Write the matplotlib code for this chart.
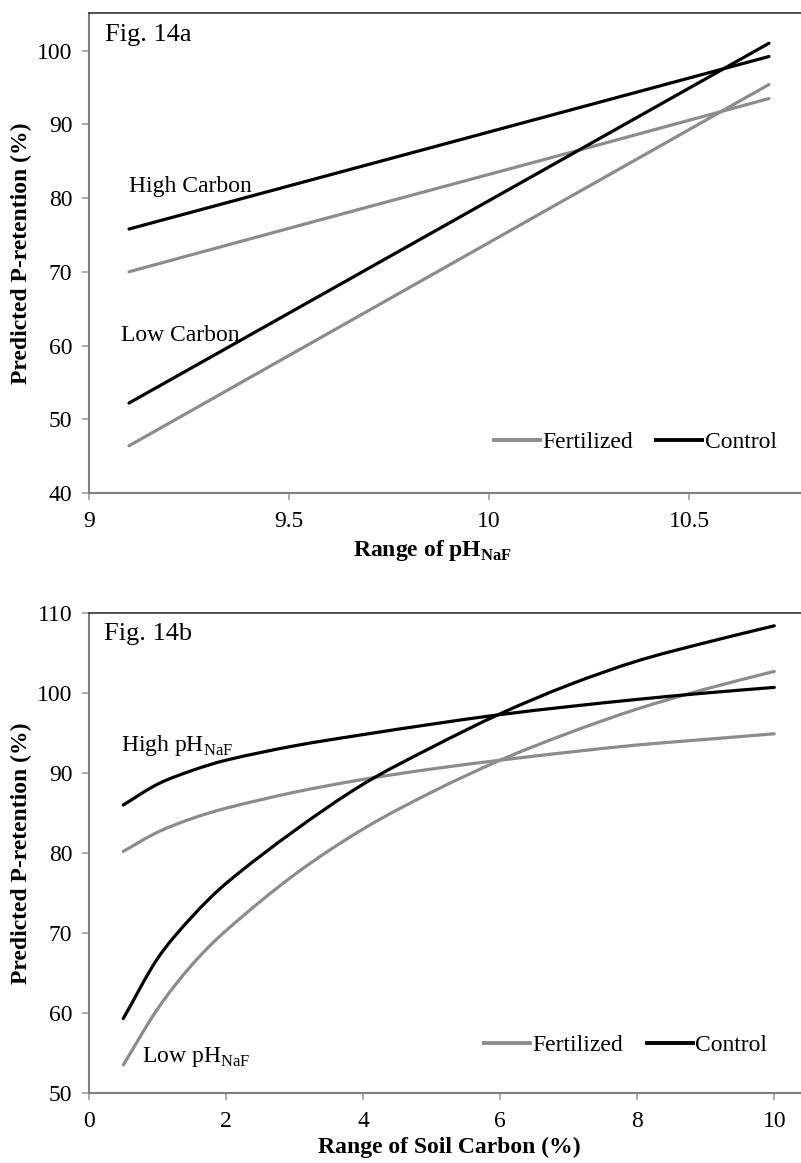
import matplotlib.pyplot as plt
from matplotlib.lines import Line2D
from matplotlib.path import Path
from matplotlib.patches import PathPatch

plt.rcParams['font.family'] = ['Liberation Serif', 'DejaVu Serif']
plt.rcParams['mathtext.fontset'] = 'custom'
plt.rcParams['mathtext.rm'] = 'Liberation Serif'
plt.rcParams['mathtext.bf'] = 'Liberation Serif:bold'

# Fig. 14a - P-retention vs pH(NaF)
ph = [9.1, 9.5, 9.9, 10.3, 10.7]
hi_c_control = [75.8, 81.65, 87.5, 93.35, 99.2]
hi_c_fert = [70.0, 75.9, 81.75, 87.6, 93.5]
lo_c_control = [52.2, 64.4, 76.6, 88.8, 101.0]
lo_c_fert = [46.4, 58.65, 70.9, 83.15, 95.4]

# Fig. 14b - P-retention vs soil carbon
carbon = [0.5, 1, 1.5, 2, 3, 4, 5, 6, 7, 8, 9, 10]
hi_ph_control = [86.0, 88.6, 90.3, 91.6, 93.4, 94.8, 96.1, 97.3, 98.3, 99.2, 100.0, 100.7]
hi_ph_fert = [80.2, 82.6, 84.3, 85.6, 87.6, 89.2, 90.5, 91.6, 92.6, 93.5, 94.2, 94.9]
lo_ph_control = [59.3, 66.8, 72.0, 76.2, 82.8, 88.6, 93.2, 97.4, 101.0, 104.0, 106.3, 108.4]
lo_ph_fert = [53.5, 60.5, 66.0, 70.3, 77.3, 83.0, 87.6, 91.6, 95.0, 98.0, 100.5, 102.7]

GRAY = '#8c8c8c'
BLACK = '#000000'
LW = 2.3
FS = 17

W, H = 801, 1163
fig = plt.figure(figsize=(W / 100, H / 100), dpi=100)
ax1 = fig.add_axes([89 / W, 1 - 493 / H, (W - 89) / W, 480 / H])
ax2 = fig.add_axes([89 / W, 1 - 1093 / H, (W - 89) / W, 480 / H])


def smooth_line(ax, x, y, color):
    # сглаженная линия через точки (кубические Безье, касательные по соседям)
    n = len(x)
    slopes = []
    for i in range(n):
        i0, i1 = max(i - 1, 0), min(i + 1, n - 1)
        slopes.append((y[i1] - y[i0]) / (x[i1] - x[i0]))
    verts = [(x[0], y[0])]
    codes = [Path.MOVETO]
    for i in range(n - 1):
        h = x[i + 1] - x[i]
        c1 = (x[i] + h / 3, y[i] + slopes[i] * h / 3)
        c2 = (x[i + 1] - h / 3, y[i + 1] - slopes[i + 1] * h / 3)
        verts += [c1, c2, (x[i + 1], y[i + 1])]
        codes += [Path.CURVE4] * 3
    ax.add_patch(PathPatch(Path(verts, codes), fill=False, edgecolor=color, lw=LW,
                           capstyle='round', joinstyle='round'))


def style(ax):
    ax.spines['right'].set_visible(False)
    ax.spines['top'].set_color('#404040')
    ax.spines['top'].set_linewidth(1.3)
    for s in ['left', 'bottom']:
        ax.spines[s].set_color('#808080')
        ax.spines[s].set_linewidth(1.5)
    ax.tick_params(axis='both', direction='out', length=5, width=1.2, color='#a0a0a0',
                   labelsize=FS)
    ax.tick_params(axis='y', pad=7)
    ax.tick_params(axis='x', pad=8)


def legend(ax, x, y):
    handles = [Line2D([], [], color=GRAY, lw=LW + 0.5, label='Fertilized'),
               Line2D([], [], color=BLACK, lw=LW + 0.5, label='Control')]
    ax.legend(handles=handles, loc='center', bbox_to_anchor=(x, y), ncol=2, frameon=False,
              fontsize=FS, handlelength=1.95, handletextpad=0.1, columnspacing=1.0)


# Верхний график
smooth_line(ax1, ph, hi_c_fert, GRAY)
smooth_line(ax1, ph, lo_c_fert, GRAY)
smooth_line(ax1, ph, hi_c_control, BLACK)
smooth_line(ax1, ph, lo_c_control, BLACK)
ax1.set_xlim(9, 10.78)
ax1.set_ylim(40, 105.1)
ax1.set_xticks([9, 9.5, 10, 10.5])
ax1.set_xticklabels(['9', '9.5', '10', '10.5'])
ax1.set_yticks(range(40, 101, 10))
style(ax1)
ax1.text(0.022, 0.977, 'Fig. 14a', transform=ax1.transAxes, fontsize=19, va='top')
ax1.text(9.1, 81.6, 'High Carbon', fontsize=FS, va='center')
ax1.text(9.08, 61.3, 'Low Carbon', fontsize=FS, va='center')
ax1.set_ylabel('Predicted P-retention (%)', fontsize=FS, fontweight='bold')
ax1.yaxis.set_label_coords((32 - 89) / (W - 89), 0.5)
ax1.set_xlabel(r'Range of pH$_{\mathbf{NaF}}$', fontsize=FS, fontweight='bold')
ax1.xaxis.set_label_coords((433 - 89) / (W - 89), -45 / 480)
legend(ax1, 0.767, 0.106)

# Нижний график
smooth_line(ax2, carbon, hi_ph_fert, GRAY)
smooth_line(ax2, carbon, lo_ph_fert, GRAY)
smooth_line(ax2, carbon, hi_ph_control, BLACK)
smooth_line(ax2, carbon, lo_ph_control, BLACK)
ax2.set_xlim(0, 10.39)
ax2.set_ylim(50, 110)
ax2.set_xticks(range(0, 11, 2))
ax2.set_yticks(range(50, 111, 10))
style(ax2)
ax2.text(0.021, 0.979, 'Fig. 14b', transform=ax2.transAxes, fontsize=19, va='top')
ax2.text(0.47, 93.4, r'High pH$_{\mathrm{NaF}}$', fontsize=FS, va='center')
ax2.text(0.77, 54.5, r'Low pH$_{\mathrm{NaF}}$', fontsize=FS, va='center')
ax2.set_ylabel('Predicted P-retention (%)', fontsize=FS, fontweight='bold')
ax2.yaxis.set_label_coords((32 - 89) / (W - 89), 0.5)
ax2.set_xlabel('Range of Soil Carbon (%)', fontsize=FS, fontweight='bold')
ax2.xaxis.set_label_coords((449 - 89) / (W - 89), -44 / 480)
legend(ax2, 0.754, 0.1)

plt.savefig('out.png', dpi=100)
